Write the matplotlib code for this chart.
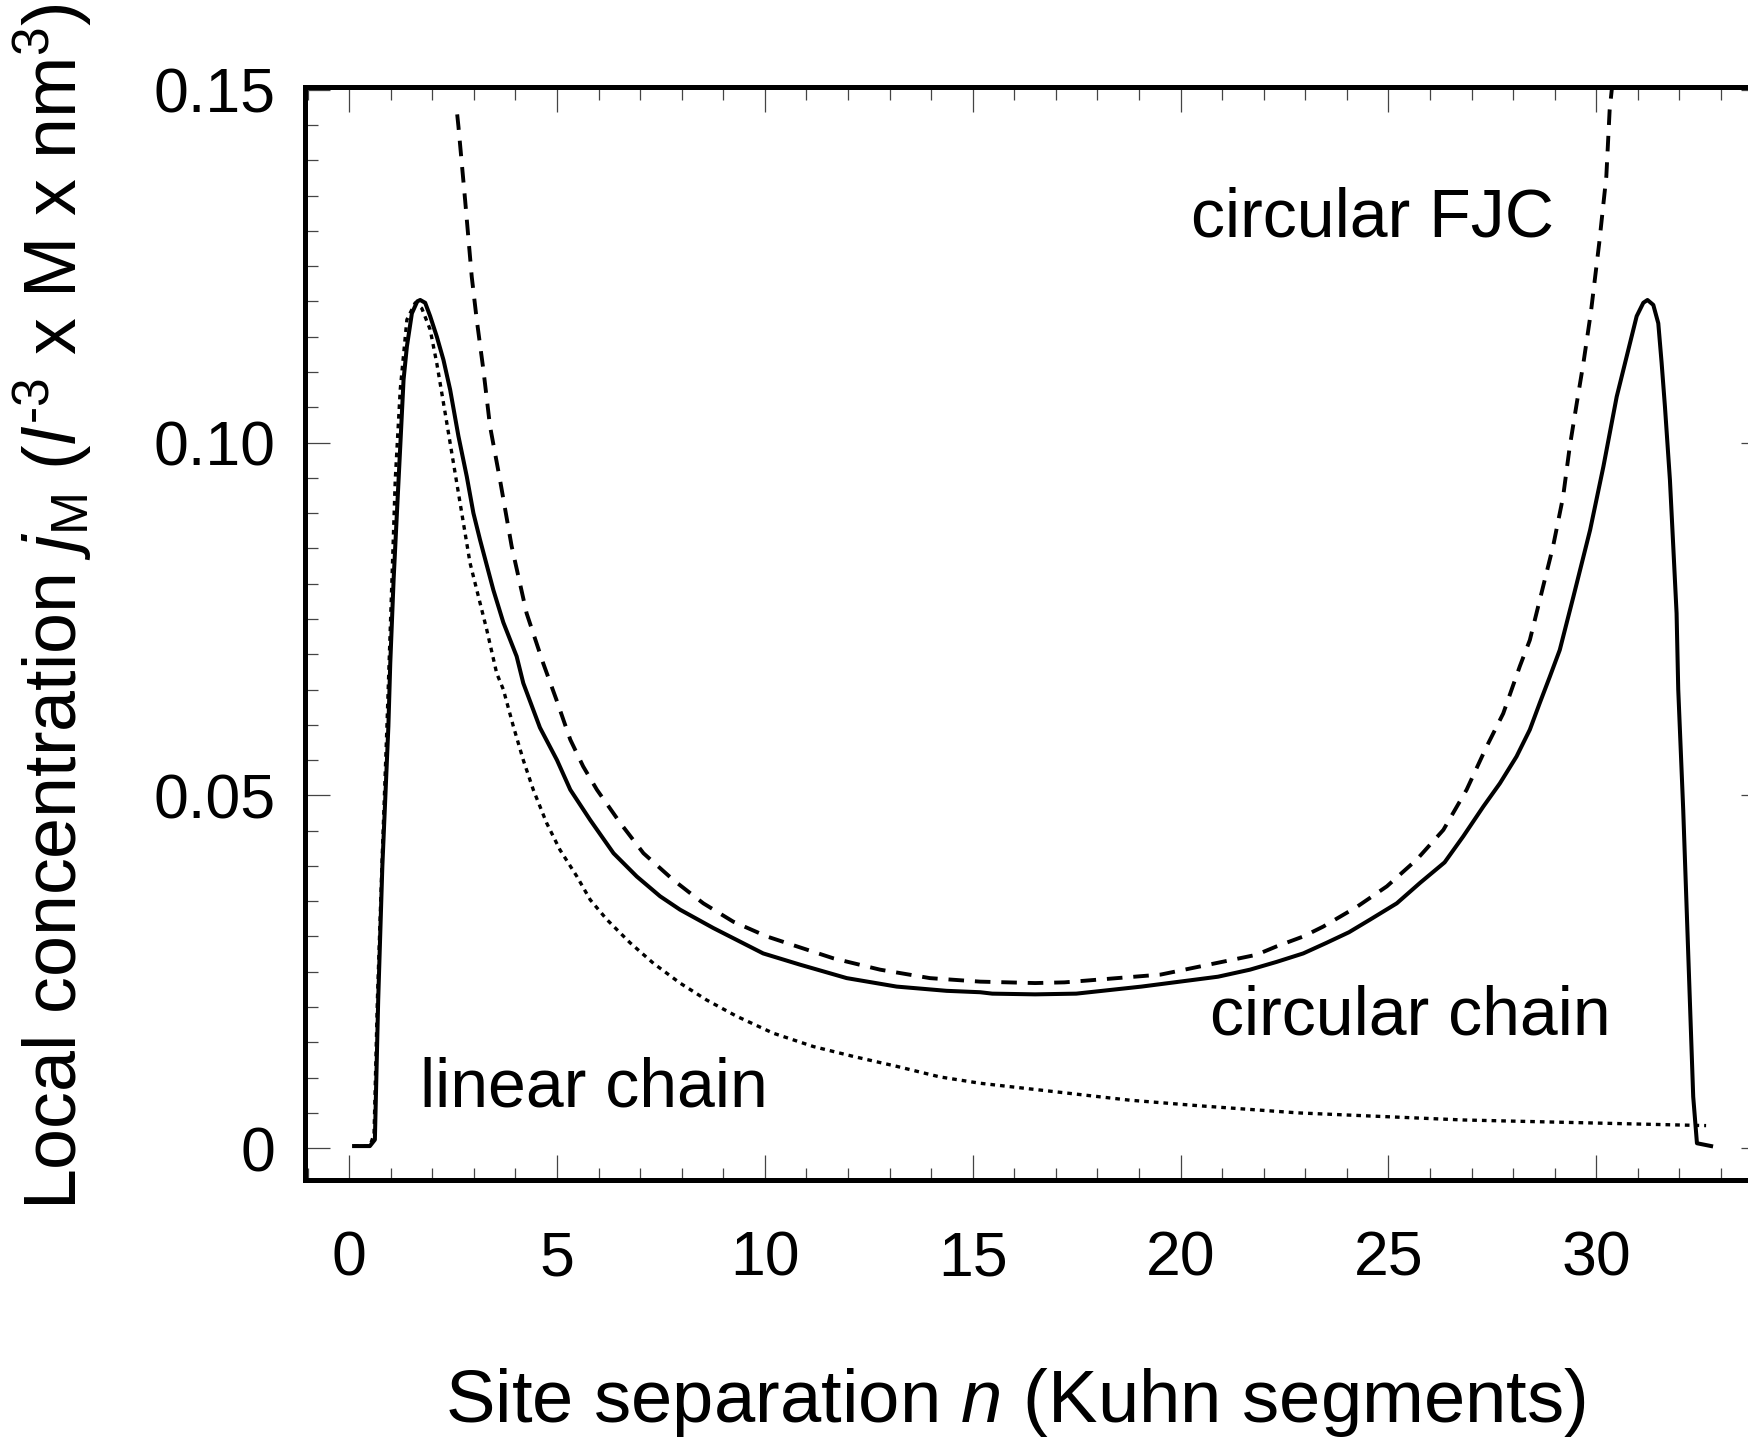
import matplotlib
matplotlib.use("Agg")
import matplotlib.pyplot as plt
from matplotlib.ticker import MultipleLocator, FixedLocator, FixedFormatter

plt.rcParams["font.family"] = ["Liberation Sans", "DejaVu Sans"]
plt.rcParams["mathtext.fontset"] = "custom"
plt.rcParams["mathtext.rm"] = "Liberation Sans"
plt.rcParams["mathtext.it"] = "Liberation Sans:italic"

# circular chain (solid)
circ_n = [0.12, 0.50, 0.62, 0.70, 0.80, 0.945, 0.99, 1.07, 1.15, 1.23, 1.31, 1.39, 1.51, 1.64, 1.71,
          1.83, 1.95, 2.11, 2.27, 2.43, 2.63, 2.83, 2.99, 3.15, 3.47, 3.71, 4.03, 4.19, 4.59,
          5.00, 5.32, 5.80, 6.36, 6.92, 7.48, 7.96, 8.76, 9.56, 9.96, 10.85, 11.97, 13.17,
          14.37, 15.18, 15.47, 16.5, 17.49, 19.06, 20.90, 21.67, 22.31, 22.95, 23.51, 24.05,
          24.56, 25.20, 25.76, 26.35, 26.80, 27.28, 27.68, 28.08, 28.40, 28.64, 28.88, 29.12,
          29.45, 29.85, 30.17, 30.49, 30.89, 30.97, 31.13, 31.23, 31.37, 31.49, 31.57, 31.65,
          31.77, 31.85, 31.93, 31.97, 32.09, 32.33, 32.42, 32.76]
circ_v = [0.0003, 0.0003, 0.0012, 0.021, 0.040, 0.0598, 0.0687, 0.0805, 0.0900, 0.0994, 0.1089, 0.1136, 0.1183, 0.1200, 0.1202,
          0.1198, 0.1179, 0.1150, 0.1117, 0.1075, 0.1009, 0.0952, 0.0900, 0.0862, 0.0791, 0.0745, 0.0697, 0.0659, 0.0596,
          0.0550, 0.0508, 0.0465, 0.0418, 0.0385, 0.0357, 0.0338, 0.0312, 0.0288, 0.0276, 0.0260, 0.0241, 0.0229,
          0.0223, 0.0221, 0.0219, 0.0218, 0.0219, 0.0229, 0.0243, 0.0253, 0.0264, 0.0276, 0.0291, 0.0306,
          0.0324, 0.0347, 0.0376, 0.0405, 0.0442, 0.0484, 0.0517, 0.0555, 0.0593, 0.0631, 0.0668, 0.0706,
          0.0782, 0.0876, 0.0966, 0.1065, 0.1160, 0.1179, 0.1198, 0.1202, 0.1195, 0.1169, 0.1113, 0.1051,
          0.0947, 0.0853, 0.0758, 0.0650, 0.0479, 0.0073, 0.0007, 0.0003]

# circular FJC (dashed)
fjc_n = [2.60, 2.63, 2.79, 2.95, 3.07, 3.23, 3.39, 3.63, 3.91, 4.27, 4.67, 4.99, 5.32, 5.63,
         5.96, 6.52, 7.08, 7.80, 8.52, 9.24, 10.05, 10.77, 11.65, 12.77, 13.97, 15.18, 16.5,
         17.21, 19.52, 21.82, 22.31, 22.95, 23.43, 24.24, 24.96, 25.68, 26.32, 26.88, 27.36,
         27.76, 28.16, 28.40, 28.64, 28.96, 29.20, 29.36, 29.53, 29.69, 29.87, 30.07, 30.24,
         30.32, 30.38]
fjc_v = [0.1465, 0.1448, 0.1344, 0.1235, 0.1174, 0.1103, 0.1023, 0.0947, 0.0853, 0.0758, 0.0687, 0.0635, 0.0579, 0.0541,
         0.0508, 0.0461, 0.0418, 0.0380, 0.0347, 0.0321, 0.0300, 0.0286, 0.0269, 0.0253, 0.0241, 0.0236, 0.0234,
         0.0235, 0.0246, 0.0274, 0.0286, 0.0300, 0.0314, 0.0342, 0.0371, 0.0409, 0.0451, 0.0508, 0.0569,
         0.0616, 0.0683, 0.0720, 0.0777, 0.0853, 0.0923, 0.0994, 0.1056, 0.1113, 0.1185, 0.1283, 0.1377,
         0.1471, 0.1505]

# linear chain (dotted)
lin_n = [0.12, 0.50, 0.60, 0.68, 0.80, 0.91, 1.03, 1.11, 1.23, 1.39, 1.59, 1.75, 1.95, 2.11,
         2.31, 2.51, 2.71, 2.91, 3.11, 3.31, 3.55, 3.71, 3.95, 4.19, 4.43, 4.75, 5.07, 5.48,
         5.80, 6.20, 6.76, 7.32, 7.96, 8.60, 9.32, 10.20, 11.17, 12.13, 13.17, 14.21, 15.18,
         18.78, 20.47, 22.83, 26.79, 32.64]
lin_v = [0.0003, 0.0003, 0.002, 0.021, 0.042, 0.0598, 0.0805, 0.0947, 0.1075, 0.1174, 0.1198, 0.1190, 0.1160, 0.1112,
         0.1042, 0.0971, 0.0900, 0.0829, 0.0782, 0.0735, 0.0673, 0.0650, 0.0598, 0.0550, 0.0508, 0.0461, 0.0423, 0.0385,
         0.0352, 0.0324, 0.0291, 0.0262, 0.0234, 0.0210, 0.0187, 0.0163, 0.0144, 0.0130, 0.0116, 0.0101, 0.0092,
         0.0068, 0.0060, 0.0050, 0.0040, 0.0032]

x_ticks = [0, 5, 10, 15, 20, 25, 30]
y_ticks = [0, 0.05, 0.10, 0.15]
y_tick_labels = ["0", "0.05", "0.10", "0.15"]

fig = plt.figure(figsize=(17.49, 14.43), dpi=100)
ax = fig.add_axes([0.1744, 0.1823, 0.8353, 0.7575])

ax.plot(circ_n, circ_v, color="black", lw=2.9, solid_joinstyle="round")
ax.plot(fjc_n, fjc_v, color="black", lw=2.8, linestyle=(0, (4.0, 2.8)))
ax.plot(lin_n, lin_v, color="black", lw=2.4, linestyle=(0, (1.4, 1.5)))

ax.text(20.25, 0.1292, "circular FJC", fontsize=49, va="baseline")
ax.text(1.71, 0.0059, "linear chain", fontsize=49, va="baseline")
ax.text(20.71, 0.0161, "circular chain", fontsize=49, va="baseline")

ax.set_xlim(-1.06, 34.08)
ax.set_ylim(-0.0045, 0.1504)

ax.xaxis.set_major_locator(FixedLocator(x_ticks))
ax.xaxis.set_minor_locator(MultipleLocator(1))
ax.yaxis.set_major_locator(FixedLocator(y_ticks))
ax.yaxis.set_major_formatter(FixedFormatter(y_tick_labels))
ax.yaxis.set_minor_locator(MultipleLocator(0.005))

ax.tick_params(which="both", direction="in", top=True, right=True, width=0.9, color="#444444")
ax.tick_params(which="major", length=18, labelsize=45)
ax.tick_params(axis="x", which="major", pad=36)
ax.tick_params(axis="y", which="major", pad=21)
ax.tick_params(which="minor", length=9)

for s in ax.spines.values():
    s.set_linewidth(3.6)

ax.set_xlabel("Site separation $n$ (Kuhn segments)", fontsize=53.5, va="baseline")
ax.xaxis.set_label_coords(0.486, -0.2214)
ax.set_ylabel("Local concentration $j_{\\mathrm{M}}$ ($l^{\\text{-3}}$ x M x nm$^{3}$)", fontsize=53, va="baseline")
ax.yaxis.set_label_coords(-0.156, 0.525)

fig.savefig("out.png", dpi=100)
